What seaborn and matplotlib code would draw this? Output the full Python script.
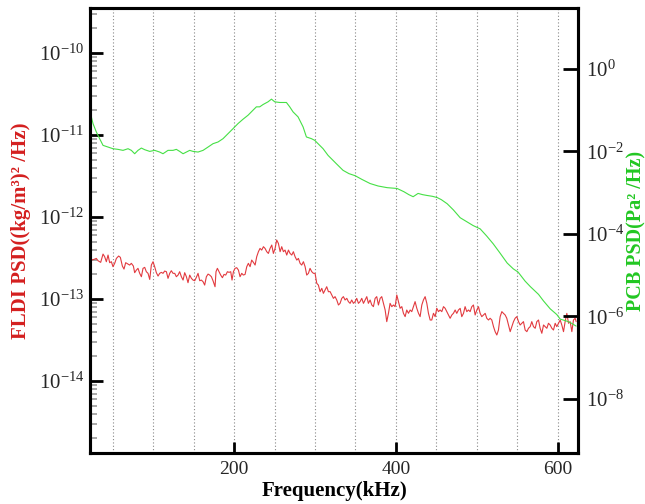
import numpy as np
import pandas as pd
import matplotlib
matplotlib.use("Agg")
import matplotlib.pyplot as plt
import matplotlib.ticker as mticker
import seaborn as sns

# ---------------- data ----------------
# FLDI PSD, frequency in kHz and log10 of PSD ((kg/m^3)^2/Hz)
fldi_freq = [23.6, 26.9, 29.8, 31.9, 35.2, 38.1, 40.1, 42.2, 44.3, 46.3, 48.4, 50.4, 52.5, 54.6, 57.4,
             59.5, 62.0, 64.0, 66.1, 69.0, 71.0, 73.1, 75.6, 77.2, 79.3, 81.3, 83.4, 85.5, 87.5, 89.6,
             91.6, 93.7, 95.8, 97.8, 99.9, 101.9, 104.0, 106.1, 108.1, 110.2, 112.2, 114.3, 116.4, 118.4,
             120.5, 122.5, 124.6, 126.7, 128.7, 130.8, 132.8, 134.9, 137.0, 139.0, 141.1, 143.1, 145.2,
             147.3, 149.3, 151.4, 153.4, 155.5, 157.6, 159.6, 161.7, 163.7, 165.8, 167.9, 169.9, 172.0,
             174.0, 176.5, 177.7, 179.4, 181.5, 183.5, 185.6, 187.6, 189.7, 191.8, 193.8, 195.9, 197.5,
             199.2, 201.2, 203.3, 205.4, 207.4, 209.5, 211.5, 213.6, 215.7, 217.7, 219.8, 221.8, 223.9,
             226.0, 228.0, 230.1, 232.1, 234.2, 236.3, 238.3, 240.4, 242.4, 244.5, 246.6, 248.6, 250.7,
             252.7, 254.8, 256.9, 258.9, 261.0, 263.0, 265.1, 267.2, 269.2, 271.3, 273.3, 275.4, 277.5,
             279.5, 281.6, 283.6, 285.7, 287.8, 289.8, 291.9, 293.9, 296.0, 298.1, 300.1, 302.2, 304.2,
             306.3, 308.4, 310.4, 312.5, 314.5, 316.6, 318.7, 320.7, 322.8, 324.8, 326.9, 329.0, 331.0,
             333.1, 335.1, 337.2, 339.3, 341.3, 343.4, 345.4, 347.5, 349.6, 351.6, 353.7, 355.7, 357.8,
             359.9, 361.9, 364.0, 366.0, 368.1, 370.2, 372.2, 374.3, 376.3, 378.4, 380.5, 382.5, 384.6,
             386.7, 388.7, 390.8, 392.8, 394.9, 397.0, 399.0, 401.1, 403.1, 405.2, 407.3, 409.3, 411.4,
             413.4, 415.5, 417.6, 419.6, 421.7, 423.7, 425.8, 427.9, 429.9, 432.0, 434.0, 436.1, 438.2,
             440.2, 442.3, 444.3, 446.4, 448.5, 450.5, 452.6, 454.6, 456.7, 458.8, 460.8, 462.9, 464.9,
             467.0, 469.1, 471.1, 473.2, 475.2, 477.3, 479.4, 481.4, 483.5, 485.5, 487.6, 489.7, 491.7,
             493.8, 495.8, 497.9, 500.0, 502.0, 504.1, 506.1, 508.2, 510.3, 512.3, 514.4, 516.4, 518.5,
             520.6, 522.6, 524.7, 526.7, 528.8, 530.9, 532.9, 535.0, 537.0, 539.1, 541.2, 543.2, 545.3,
             547.3, 549.4, 551.5, 553.5, 555.6, 557.6, 559.7, 561.8, 563.8, 565.9, 567.9, 570.0, 572.1,
             574.1, 576.2, 578.2, 580.3, 582.4, 584.4, 586.5, 588.5, 590.6, 592.7, 594.7, 596.8, 598.8,
             600.9, 603.0, 605.0, 607.1, 609.1, 611.2, 613.3, 615.3, 617.4, 619.4, 621.5, 622.7]
fldi_log = [-12.525, -12.517, -12.505, -12.533, -12.553, -12.452, -12.484, -12.545, -12.464, -12.557,
            -12.545, -12.606, -12.565, -12.505, -12.476, -12.492, -12.598, -12.635, -12.557, -12.574,
            -12.586, -12.565, -12.598, -12.679, -12.647, -12.626, -12.687, -12.728, -12.626, -12.614,
            -12.667, -12.687, -12.761, -12.586, -12.545, -12.606, -12.679, -12.720, -12.687, -12.675,
            -12.687, -12.659, -12.667, -12.748, -12.687, -12.655, -12.687, -12.687, -12.728, -12.708,
            -12.667, -12.728, -12.769, -12.679, -12.728, -12.801, -12.708, -12.748, -12.769, -12.777,
            -12.736, -12.687, -12.777, -12.769, -12.789, -12.830, -12.728, -12.696, -12.708, -12.728,
            -12.777, -12.850, -12.667, -12.626, -12.667, -12.708, -12.740, -12.700, -12.708, -12.667,
            -12.675, -12.667, -12.769, -12.667, -12.626, -12.618, -12.647, -12.728, -12.687, -12.708,
            -12.700, -12.606, -12.565, -12.606, -12.525, -12.553, -12.586, -12.484, -12.423, -12.383,
            -12.403, -12.362, -12.383, -12.423, -12.444, -12.383, -12.342, -12.444, -12.383, -12.281,
            -12.322, -12.423, -12.362, -12.423, -12.403, -12.464, -12.403, -12.444, -12.464, -12.423,
            -12.484, -12.525, -12.505, -12.565, -12.586, -12.545, -12.606, -12.708, -12.687, -12.626,
            -12.667, -12.687, -12.687, -12.809, -12.830, -12.911, -12.870, -12.931, -12.891, -12.850,
            -12.911, -12.910, -12.951, -12.992, -12.971, -13.012, -13.073, -13.053, -12.992, -12.971,
            -13.012, -12.992, -13.032, -13.053, -13.012, -13.053, -13.032, -12.992, -13.053, -13.032,
            -12.992, -13.053, -13.012, -12.971, -13.053, -13.012, -13.073, -13.093, -12.992, -12.971,
            -13.073, -12.992, -12.971, -13.053, -13.134, -13.276, -13.174, -13.053, -13.093, -13.073,
            -13.093, -12.951, -13.032, -13.113, -13.093, -13.174, -13.215, -13.134, -13.174, -13.134,
            -13.154, -13.093, -13.032, -13.113, -13.174, -13.215, -13.073, -13.012, -12.971, -13.053,
            -13.174, -13.256, -13.256, -13.174, -13.215, -13.113, -13.154, -13.134, -13.154, -13.093,
            -13.113, -13.154, -13.195, -13.235, -13.195, -13.174, -13.134, -13.175, -13.134, -13.114,
            -13.215, -13.175, -13.093, -13.154, -13.134, -13.154, -13.093, -13.073, -13.195, -13.134,
            -13.093, -13.175, -13.215, -13.195, -13.175, -13.235, -13.256, -13.235, -13.256, -13.337,
            -13.398, -13.439, -13.378, -13.215, -13.154, -13.175, -13.195, -13.235, -13.317, -13.398,
            -13.337, -13.276, -13.235, -13.215, -13.276, -13.317, -13.296, -13.276, -13.378, -13.398,
            -13.357, -13.337, -13.276, -13.337, -13.357, -13.276, -13.256, -13.357, -13.418, -13.317,
            -13.337, -13.357, -13.296, -13.317, -13.357, -13.378, -13.296, -13.337, -13.296, -13.256,
            -13.317, -13.398, -13.276, -13.175, -13.296, -13.276, -13.398, -13.256, -13.235, -13.276]

# PCB PSD, frequency in kHz and log10 of PSD (Pa^2/Hz)
pcb_freq = [23.7, 25.7, 29.8, 33.9, 38.1, 44.2, 50.4, 56.6, 62.8, 69.0, 73.1, 77.2, 81.3, 85.5, 89.6,
            95.8, 101.9, 108.1, 112.2, 118.4, 124.6, 128.7, 132.8, 137.0, 141.1, 145.2, 149.3, 155.5,
            161.7, 167.9, 174.0, 180.2, 186.4, 192.6, 198.8, 204.9, 211.1, 217.3, 223.5, 227.6, 231.7,
            235.9, 242.0, 246.2, 250.3, 256.4, 264.7, 268.8, 272.9, 279.1, 285.3, 289.4, 295.6, 299.7,
            303.8, 310.0, 316.2, 322.4, 326.5, 334.7, 342.0, 349.6, 358.0, 368.1, 378.0, 389.1, 401.5,
            410.0, 416.0, 421.3, 427.4, 433.0, 438.6, 445.0, 450.9, 456.0, 463.3, 471.0, 479.4, 487.0,
            495.4, 504.1, 512.0, 520.1, 528.0, 537.5, 545.0, 551.0, 559.7, 566.0, 576.2, 582.4, 590.6,
            598.8, 603.0, 611.2, 616.0, 622.7]
pcb_log = [-1.163, -1.325, -1.528, -1.691, -1.854, -1.894, -1.935, -1.951, -1.975, -1.935, -1.975,
           -2.057, -1.975, -1.919, -1.959, -2.000, -1.975, -2.016, -2.057, -1.975, -1.975, -1.951,
           -2.000, -2.057, -2.016, -1.975, -2.000, -2.016, -1.975, -1.894, -1.813, -1.772, -1.691,
           -1.569, -1.447, -1.325, -1.219, -1.122, -0.999, -0.919, -0.919, -0.862, -0.797, -0.732,
           -0.797, -0.813, -0.813, -0.919, -1.041, -1.163, -1.406, -1.650, -1.691, -1.732, -1.813,
           -1.935, -2.098, -2.220, -2.301, -2.46, -2.54, -2.59, -2.68, -2.78, -2.84, -2.88, -2.90,
           -2.98, -3.05, -3.10, -3.02, -3.05, -3.07, -3.09, -3.12, -3.17, -3.27, -3.42, -3.61, -3.70,
           -3.80, -3.88, -4.05, -4.24, -4.45, -4.71, -4.85, -4.93, -5.15, -5.28, -5.47, -5.63, -5.82,
           -5.96, -6.07, -6.12, -6.16, -6.24]

fldi = pd.DataFrame({"freq": fldi_freq, "psd": np.power(10.0, fldi_log)})
pcb = pd.DataFrame({"freq": pcb_freq, "psd": np.power(10.0, pcb_log)})

x_major = [200, 400, 600]
left_major = [1e-14, 1e-13, 1e-12, 1e-11, 1e-10]
right_major = [1e-8, 1e-6, 1e-4, 1e-2, 1e0]

# ---------------- style ----------------
sns.set_theme(style="white")
plt.rcParams["font.family"] = ["Liberation Serif", "DejaVu Serif"]
plt.rcParams["mathtext.default"] = "regular"

RED_LINE = "#e23a3f"
RED_TXT = "#d41f1f"
GRN_LINE = "#45e045"
GRN_TXT = "#22c722"

fig = plt.figure(figsize=(6.45, 5.04), dpi=100)
ax = fig.add_axes([90 / 645, 51 / 504, 488 / 645, 445 / 504])
ax.set_yscale("log")
ax2 = ax.twinx()
ax2.set_yscale("log")

sns.lineplot(data=fldi, x="freq", y="psd", ax=ax, color=RED_LINE, lw=0.8,
             estimator=None, sort=False)
sns.lineplot(data=pcb, x="freq", y="psd", ax=ax2, color=GRN_LINE, lw=0.8,
             estimator=None, sort=False)

ax.set_xlim(22, 625)
ax.set_ylim(10 ** -14.878, 10 ** -9.451)
ax2.set_ylim(10 ** -9.32, 10 ** 1.48)

def sci(v, pos):
    if v <= 0:
        return ""
    e = int(round(np.log10(v)))
    return r"$10^{%d}$" % e

# x axis
ax.xaxis.set_major_locator(mticker.FixedLocator(x_major))
ax.xaxis.set_minor_locator(mticker.MultipleLocator(50))
ax.grid(False)
ax.grid(which="both", axis="x", color="#888888", linestyle=(0, (1, 2)), lw=0.8)
ax.tick_params(axis="x", which="major", direction="in", length=8, width=2,
               labelsize=14, bottom=True, top=False, color="black", pad=6)
ax.tick_params(axis="x", which="minor", length=0)

# left axis
ax.yaxis.set_major_locator(mticker.FixedLocator(left_major))
ax.yaxis.set_minor_locator(mticker.LogLocator(base=10, subs=np.arange(2, 10), numticks=30))
ax.yaxis.set_major_formatter(mticker.FuncFormatter(sci))
ax.yaxis.set_minor_formatter(mticker.NullFormatter())
ax.tick_params(axis="y", which="major", direction="in", length=9, width=2,
               labelsize=15, left=True, right=False, color="black", pad=4)
ax.tick_params(axis="y", which="minor", direction="in", length=5, width=1.2,
               left=True, right=False, color="#999999")

# right axis
ax2.yaxis.set_major_locator(mticker.FixedLocator(right_major))
ax2.yaxis.set_minor_locator(mticker.NullLocator())
ax2.yaxis.set_major_formatter(mticker.FuncFormatter(sci))
ax2.tick_params(axis="y", which="major", direction="in", length=11, width=2,
                labelsize=15, right=True, left=False, color="black", pad=6)
ax2.grid(False)

for a in (ax, ax2):
    for s in a.spines.values():
        s.set_linewidth(2.2)
        s.set_color("black")

ax.set_xlabel("Frequency(kHz)", fontsize=15, fontweight="bold", color="black", labelpad=2)
ax.set_ylabel("FLDI PSD((kg/m\u00b3)\u00b2 /Hz)", fontsize=15, fontweight="bold",
              color=RED_TXT, labelpad=6)
ax2.set_ylabel("PCB PSD(Pa\u00b2 /Hz)", fontsize=14.5, fontweight="bold",
               color=GRN_TXT, labelpad=1)

fig.savefig("out.png", dpi=100)
